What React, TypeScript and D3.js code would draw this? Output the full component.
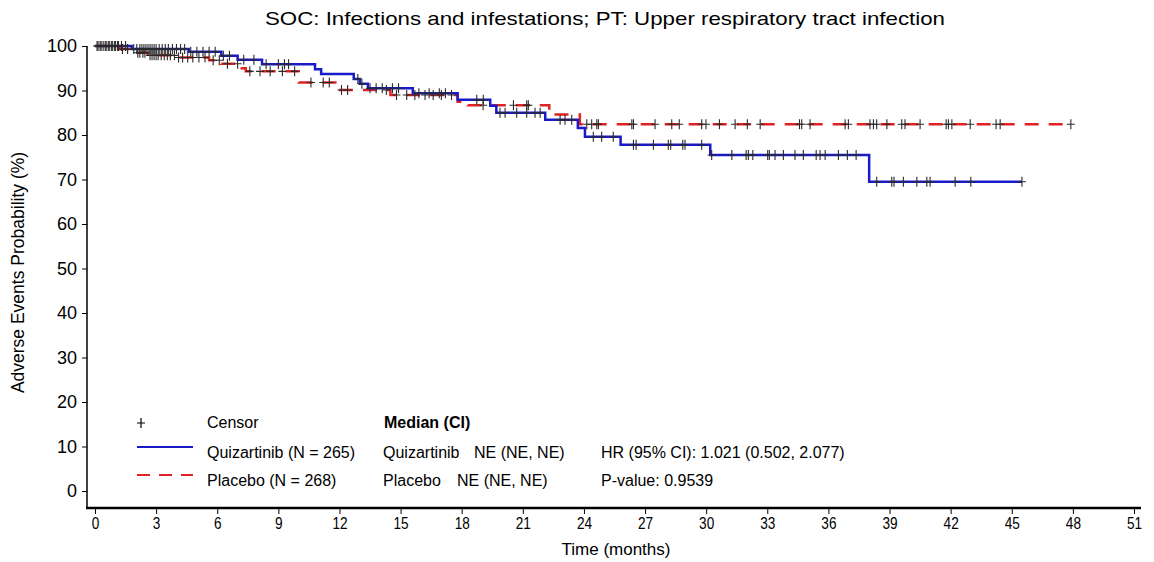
import { useEffect, useRef } from "react";
import * as d3 from "d3";

const title = "SOC: Infections and infestations; PT: Upper respiratory tract infection";

// step points (months, % free of event)
const quizTimes = [0, 1.8, 4.6, 6.2, 7.0, 8.2, 10.8, 11.1, 12.7, 13.0, 13.4, 15.6, 17.8, 19.4, 19.7, 22.1, 23.7, 24.05, 25.8, 30.2, 38.0];
const quizLevels = [100, 99.3, 98.7, 97.8, 96.9, 95.9, 94.8, 93.7, 92.6, 91.5, 90.5, 89.4, 87.9, 86.6, 85.0, 83.4, 81.6, 79.6, 77.8, 75.5, 69.5];
const quizEnd = 45.5;

const placTimes = [0, 1.2, 2.0, 2.6, 4.0, 5.6, 6.2, 7.2, 7.4, 10.0, 11.8, 14.5, 17.8, 18.3, 22.3, 23.8];
const placLevels = [100, 99.3, 98.5, 97.9, 97.4, 96.8, 96.0, 95.0, 94.3, 91.8, 90.1, 89.0, 87.5, 86.7, 84.6, 82.4];
const placEnd = 47.9;

const quizCensor = [
  0.1, 0.25, 0.4, 0.55, 0.7, 0.85, 1.0, 1.15, 1.3, 1.5,
  1.9, 2.05, 2.2, 2.3, 2.4, 2.5, 2.6, 2.7, 2.8, 2.9, 3.0, 3.15, 3.3, 3.45, 3.6, 3.8, 4.0, 4.2, 4.4, 4.7, 5.0,
  5.3, 5.6, 5.9, 6.3, 6.6, 7.3, 7.8, 8.4, 9.0, 9.3, 9.5,
  12.9, 13.1, 13.5, 13.8, 14.1, 14.6, 14.9, 15.9, 16.4, 16.9, 17.2,
  18.74, 19.06, 19.88, 20.13, 20.7, 21.19, 21.6, 21.85, 22.83, 23.07, 23.4, 24.46, 24.87, 25.44,
  26.43, 26.56, 27.41, 28.14, 28.26, 28.85, 28.96, 29.78,
  30.27, 31.26, 31.96, 32.07, 32.29, 33.02, 33.1, 33.38, 33.79, 34.36, 34.77, 35.4, 35.59, 35.84, 36.49, 36.93, 37.36,
  38.37, 39.11, 39.22, 39.68, 40.34, 40.83, 40.99, 42.22, 42.99, 45.5,
];

const placCensor = [
  0.15, 0.3, 0.5, 0.65, 0.8, 0.95, 1.1, 1.35, 1.6,
  2.1, 2.2, 2.35, 2.45, 2.7, 2.8, 2.9, 3.0, 3.1, 3.25, 3.4, 3.55, 3.7, 3.9, 4.1, 4.3, 4.55, 4.8, 5.1,
  5.4, 5.8, 6.1, 6.5, 7.0, 7.6, 8.1, 8.6, 9.2, 9.8,
  10.6, 11.2, 11.5, 12.1, 12.4, 14.3, 14.8, 15.3, 15.7, 16.2, 16.6, 17.0, 17.5,
  19.05, 20.54, 21.19, 21.27, 24.14, 24.38, 24.63, 24.71, 26.35, 26.43,
  27.49, 28.31, 28.68, 29.78, 29.99, 30.65, 31.42, 32.02, 32.65, 34.58, 34.69, 35.1, 36.82, 36.98,
  38.04, 38.21, 38.37, 38.87, 39.6, 39.76, 40.5, 41.78, 41.89, 42.06, 42.96, 44.23, 44.43, 47.9,
];

const xTicks = d3.range(0, 52, 3);
const yTicks = d3.range(0, 101, 10);

const BLUE = "#1a1ac8";
const RED = "#e02222";

export default function App() {
  const svgRef = useRef<SVGSVGElement>(null);

  useEffect(() => {
    document.body.style.margin = "0";
    const width = 1154;
    const height = 562;
    const svg = d3.select(svgRef.current);
    svg.selectAll("*").remove();
    svg.attr("width", width).attr("height", height);
    svg.append("rect").attr("width", width).attr("height", height).attr("fill", "#fff");

    const x = d3.scaleLinear().domain([0, 51]).range([95, 1134]);
    const y = d3.scaleLinear().domain([0, 100]).range([491, 46]);
    const font = "Arial, 'Liberation Sans', sans-serif";

    // title
    svg.append("text")
      .attr("x", 605).attr("y", 25)
      .attr("text-anchor", "middle")
      .attr("textLength", 680).attr("lengthAdjust", "spacingAndGlyphs")
      .style("font-family", font).style("font-size", "19px")
      .text(title);

    // y axis
    const ya = svg.append("g").attr("transform", "translate(87,0)")
      .call(d3.axisLeft(y).tickValues(yTicks).tickSize(5).tickPadding(5));
    ya.select(".domain").attr("d", `M0,${y(100)}V508`).attr("stroke-width", 1.5);
    ya.selectAll("text").style("font-family", font).style("font-size", "18px").attr("fill", "#000");

    // x axis
    const xa = svg.append("g").attr("transform", "translate(0,508)")
      .call(d3.axisBottom(x).tickValues(xTicks).tickSize(6).tickPadding(3));
    xa.select(".domain").attr("d", "M86,0H1141").attr("stroke-width", 2.5);
    xa.selectAll<SVGTextElement, unknown>("text")
      .style("font-family", font).style("font-size", "17px").attr("fill", "#000")
      .each(function () {
        const w = this.getComputedTextLength();
        d3.select(this).attr("textLength", w * 0.8).attr("lengthAdjust", "spacingAndGlyphs");
      });

    svg.append("text")
      .attr("transform", `translate(24,${y(50) + 4}) rotate(-90)`)
      .attr("text-anchor", "middle")
      .style("font-family", font).style("font-size", "17.5px")
      .text("Adverse Events Probability (%)");
    svg.append("text")
      .attr("x", 616).attr("y", 555)
      .attr("text-anchor", "middle")
      .style("font-family", font).style("font-size", "17px")
      .text("Time (months)");

    const stepPath = (times: number[], levels: number[], end: number) => {
      const pts: [number, number][] = times.map((t, i) => [t, levels[i]]);
      pts.push([end, levels[levels.length - 1]]);
      return d3.line<[number, number]>().x(d => x(d[0])).y(d => y(d[1])).curve(d3.curveStepAfter)(pts);
    };
    const levelAt = (times: number[], levels: number[], t: number) => {
      const i = d3.bisectRight(times, t) - 1;
      return levels[Math.max(0, i)];
    };

    svg.append("path")
      .attr("d", stepPath(placTimes, placLevels, placEnd))
      .attr("fill", "none").attr("stroke", RED).attr("stroke-width", 2.5)
      .attr("stroke-dasharray", "14,10");
    svg.append("path")
      .attr("d", stepPath(quizTimes, quizLevels, quizEnd))
      .attr("fill", "none").attr("stroke", BLUE).attr("stroke-width", 2.5);

    const cross = (cx: number, cy: number) => `M${cx - 4},${cy}H${cx + 4}M${cx},${cy - 5}V${cy + 5}`;
    const censors = [
      ...quizCensor.map(t => ({ t, v: levelAt(quizTimes, quizLevels, t) })),
      ...placCensor.map(t => ({ t, v: levelAt(placTimes, placLevels, t) })),
    ];
    svg.append("g").selectAll("path").data(censors).join("path")
      .attr("d", d => cross(x(d.t), y(d.v)))
      .attr("stroke", "#2a2a2a").attr("stroke-width", 1.1).attr("fill", "none");

    // legend
    const lg = svg.append("g").style("font-family", font).style("font-size", "16px");
    lg.append("path").attr("d", cross(141, 423)).attr("stroke", "#000").attr("stroke-width", 1.2);
    lg.append("text").attr("x", 207).attr("y", 428).text("Censor");
    lg.append("text").attr("x", 384).attr("y", 428).style("font-weight", "bold").text("Median (CI)");

    lg.append("line").attr("x1", 137).attr("x2", 193).attr("y1", 447).attr("y2", 447)
      .attr("stroke", BLUE).attr("stroke-width", 2);
    lg.append("text").attr("x", 207).attr("y", 458).text("Quizartinib (N = 265)");
    lg.append("text").attr("x", 383).attr("y", 458).text("Quizartinib");
    lg.append("text").attr("x", 474).attr("y", 458).text("NE (NE, NE)");
    lg.append("text").attr("x", 601).attr("y", 458).text("HR (95% CI): 1.021 (0.502, 2.077)");

    lg.append("line").attr("x1", 137).attr("x2", 193).attr("y1", 475).attr("y2", 475)
      .attr("stroke", RED).attr("stroke-width", 2).attr("stroke-dasharray", "13,9");
    lg.append("text").attr("x", 207).attr("y", 486).text("Placebo (N = 268)");
    lg.append("text").attr("x", 383).attr("y", 486).text("Placebo");
    lg.append("text").attr("x", 457).attr("y", 486).text("NE (NE, NE)");
    lg.append("text").attr("x", 601).attr("y", 486).text("P-value: 0.9539");
  }, []);

  return <svg ref={svgRef} style={{ display: "block" }} />;
}
